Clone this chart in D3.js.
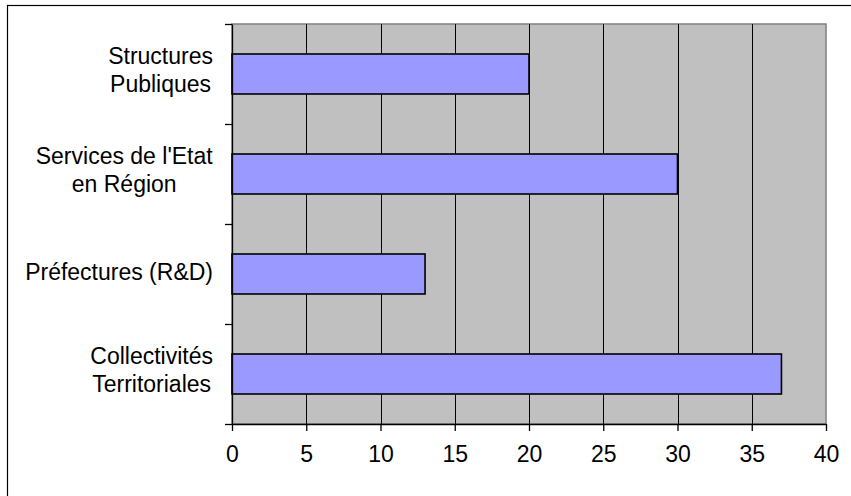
<!DOCTYPE html>
<html>
<head>
<meta charset="utf-8">
<script src="https://cdn.jsdelivr.net/npm/d3@7"></script>
<style>
  body { margin: 0; background: #fff; }
  text { font-family: "Liberation Sans", Arial, sans-serif; font-size: 23px; fill: #000; }
</style>
</head>
<body>
<svg width="851" height="496"></svg>
<script>
// categories, top to bottom (each entry = lines of the wrapped label)
const categories = [
    ["Structures", "Publiques"],
    ["Services de l'Etat", "en Région"],
    ["Préfectures (R&D)"],
    ["Collectivités", "Territoriales"]
];
const values = [20, 30, 13, 37];
const xTicks = [0, 5, 10, 15, 20, 25, 30, 35, 40];

const svg = d3.select('svg');

// outer chart frame (runs off the right / bottom of the picture)
svg.append('rect')
    .attr('x', 7.5).attr('y', 5.5)
    .attr('width', 900).attr('height', 600)
    .attr('fill', '#fff')
    .attr('stroke', '#000')
    .attr('stroke-width', 1.2);

const plotL = 232, plotT = 24, plotR = 826, plotB = 424;

const xScale = d3.scaleLinear()
    .domain([0, 40])
    .range([plotL, plotR]);

const yScale = d3.scaleBand()
    .domain(d3.range(categories.length))
    .range([plotT, plotB])
    .paddingInner(0.6)
    .paddingOuter(0.3);

const yBands = d3.scaleBand()
    .domain(d3.range(categories.length))
    .range([plotT, plotB]);

// plot area
svg.append('rect')
    .attr('x', plotL).attr('y', plotT)
    .attr('width', plotR - plotL).attr('height', plotB - plotT)
    .attr('fill', '#c0c0c0')
    .attr('stroke', '#808080')
    .attr('stroke-width', 1.5);

// vertical gridlines
svg.append('g')
    .selectAll('line')
    .data(xTicks.slice(1, -1))
    .enter()
    .append('line')
    .attr('x1', d => Math.round(xScale(d)) + 0.5)
    .attr('x2', d => Math.round(xScale(d)) + 0.5)
    .attr('y1', plotT)
    .attr('y2', plotB)
    .attr('stroke', '#000')
    .attr('stroke-width', 1);

// bars
svg.append('g')
    .selectAll('rect')
    .data(values)
    .enter()
    .append('rect')
    .attr('x', plotL)
    .attr('y', (d, i) => yScale(i))
    .attr('width', d => xScale(d) - plotL)
    .attr('height', yScale.bandwidth())
    .attr('fill', '#9999ff')
    .attr('stroke', '#000')
    .attr('stroke-width', 1.6);

// x axis
const xAxis = svg.append('g')
    .attr('transform', `translate(0, ${plotB})`)
    .call(d3.axisBottom(xScale).tickValues(xTicks).tickSize(7).tickPadding(15).tickSizeOuter(0));
xAxis.select('.domain').attr('stroke', '#000').attr('stroke-width', 1.3);
xAxis.selectAll('.tick line').attr('stroke', '#000').attr('stroke-width', 1.3);
xAxis.attr('font-size', null).attr('font-family', null);

// y axis: ticks on band boundaries, no built-in labels
const yAxis = svg.append('g')
    .attr('transform', `translate(${plotL}, 0)`)
    .call(d3.axisLeft(d3.scaleLinear().domain([0, categories.length]).range([plotT, plotB]))
        .ticks(categories.length).tickSize(7).tickFormat('').tickSizeOuter(0));
yAxis.select('.domain').attr('stroke', '#000').attr('stroke-width', 1.3);
yAxis.selectAll('.tick line').attr('stroke', '#000').attr('stroke-width', 1.3);

// category labels, centred lines, right edge at 213
const labels = svg.append('g');
categories.forEach((lines, i) => {
    const cy = yBands(i) + yBands.bandwidth() / 2;
    const t = labels.append('text').attr('text-anchor', 'middle');
    const first = cy + 6 - (lines.length - 1) * 16;
    lines.forEach((ln, k) => {
        t.append('tspan').attr('x', 0).attr('y', first + k * 28).text(ln);
    });
    const w = t.node().getBBox().width;
    t.attr('transform', `translate(${213 - w / 2}, 0)`);
});
</script>
</body>
</html>
